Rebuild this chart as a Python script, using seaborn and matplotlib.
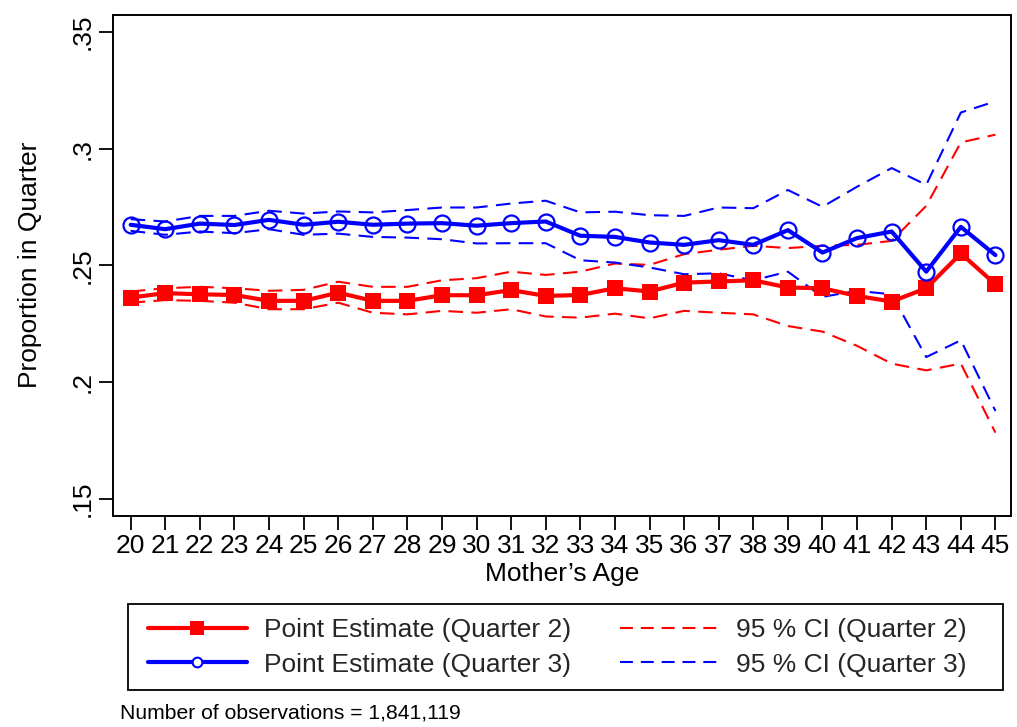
import numpy as np
import pandas as pd
import matplotlib
matplotlib.use("Agg")
import matplotlib.pyplot as plt
import seaborn as sns
from matplotlib.lines import Line2D
from matplotlib.patches import Rectangle

# Mother's age at birth
ages = list(range(20, 46))

# Quarter 2: point estimate and 95% confidence bounds
q2_est = [0.2362, 0.2381, 0.2376, 0.2373, 0.2348, 0.2348, 0.2383, 0.2348, 0.2348,
          0.2372, 0.2372, 0.2394, 0.2369, 0.2373, 0.2402, 0.2388, 0.2426, 0.2431,
          0.2436, 0.2405, 0.2402, 0.2369, 0.2345, 0.2402, 0.2551, 0.2419]
q2_hi = [0.2388, 0.2402, 0.2408, 0.2402, 0.2391, 0.2395, 0.2430, 0.2408, 0.2408,
         0.2436, 0.2445, 0.2473, 0.2459, 0.2473, 0.2508, 0.2502, 0.2548, 0.2567,
         0.2584, 0.2574, 0.2584, 0.2588, 0.2605, 0.2755, 0.3027, 0.3060]
q2_lo = [0.2340, 0.2351, 0.2348, 0.2340, 0.2312, 0.2312, 0.2340, 0.2297, 0.2290,
         0.2305, 0.2297, 0.2312, 0.2281, 0.2276, 0.2293, 0.2273, 0.2305, 0.2297,
         0.2290, 0.2240, 0.2216, 0.2155, 0.2079, 0.2050, 0.2079, 0.1783]

# Quarter 3: point estimate and 95% confidence bounds
q3_est = [0.2674, 0.2655, 0.2679, 0.2673, 0.2695, 0.2674, 0.2687, 0.2674, 0.2679,
          0.2681, 0.2670, 0.2681, 0.2688, 0.2627, 0.2622, 0.2598, 0.2588, 0.2608,
          0.2588, 0.2651, 0.2555, 0.2617, 0.2645, 0.2473, 0.2665, 0.2544]
q3_hi = [0.2698, 0.2688, 0.2712, 0.2712, 0.2734, 0.2722, 0.2731, 0.2727, 0.2737,
         0.2748, 0.2748, 0.2765, 0.2777, 0.2727, 0.2730, 0.2715, 0.2712, 0.2748,
         0.2745, 0.2823, 0.2751, 0.2837, 0.2917, 0.2845, 0.3155, 0.3203]
q3_lo = [0.2648, 0.2631, 0.2645, 0.2638, 0.2655, 0.2631, 0.2636, 0.2622, 0.2619,
         0.2612, 0.2594, 0.2595, 0.2595, 0.2522, 0.2512, 0.2491, 0.2462, 0.2466,
         0.2436, 0.2473, 0.2365, 0.2391, 0.2376, 0.2107, 0.2179, 0.1876]

y_ticks = [0.15, 0.20, 0.25, 0.30, 0.35]
y_tick_labels = [".15", ".2", ".25", ".3", ".35"]

sns.set_theme(style="white")
plt.rcParams["font.family"] = ["Liberation Sans", "DejaVu Sans"]

df = pd.DataFrame({"age": ages, "q2": q2_est, "q2_hi": q2_hi, "q2_lo": q2_lo,
                   "q3": q3_est, "q3_hi": q3_hi, "q3_lo": q3_lo})

RED = "#ff0000"
BLUE = "#0000ff"
DASH = (0, (7, 4))
FS = 19

W, H = 1017, 727
fig = plt.figure(figsize=(W / 100, H / 100), dpi=100)
fig.patch.set_facecolor("white")
ax = fig.add_axes([113 / W, 1 - 515.5 / H, (1011 - 113) / W, (515.5 - 15) / H])

# Confidence bands as dashed lines
for col, c in [("q2_hi", RED), ("q2_lo", RED), ("q3_hi", BLUE), ("q3_lo", BLUE)]:
    sns.lineplot(data=df, x="age", y=col, ax=ax, color=c, linewidth=1.5,
                 linestyle=DASH, legend=False)

# Point estimates
sns.lineplot(data=df, x="age", y="q2", ax=ax, color=RED, linewidth=3.0,
             marker="s", markersize=11.5, markeredgewidth=0, markerfacecolor=RED,
             legend=False)
sns.lineplot(data=df, x="age", y="q3", ax=ax, color=BLUE, linewidth=3.0,
             marker="o", markersize=11.5, markeredgewidth=1.6,
             markerfacecolor="none", markeredgecolor=BLUE, legend=False)

ax.set_xlim(19.49, 45.45)
ax.set_ylim(0.1428, 0.3573)
ax.set_xticks(ages)
ax.set_xticklabels([str(a) for a in ages])
ax.set_yticks(y_ticks)
ax.set_yticklabels(y_tick_labels, rotation=90, va="center")

ax.tick_params(axis="both", which="major", direction="out", length=10, width=1.3,
               color="black", labelsize=FS, labelcolor="black", pad=3,
               bottom=True, left=True)
for s in ax.spines.values():
    s.set_visible(True)
    s.set_color("black")
    s.set_linewidth(1.4)

ax.set_xlabel("Mother’s Age", fontsize=FS, color="black", labelpad=3)
ax.set_ylabel("Proportion in Quarter", fontsize=FS, color="black", labelpad=21)
ax.grid(False)

# Legend box drawn as a plain rectangle, entries placed inside it
fig.patches.append(Rectangle((128 / W, 1 - 690 / H), (1003 - 128) / W, (690 - 604) / H,
                             transform=fig.transFigure, fill=False,
                             edgecolor="black", linewidth=1.3, zorder=5))

handles = [
    Line2D([], [], color=RED, linewidth=3.0, marker="s", markersize=10,
           markeredgewidth=0),
    Line2D([], [], color=BLUE, linewidth=3.0, marker="o", markersize=7,
           markerfacecolor="white", markeredgewidth=1.5),
    Line2D([], [], color=RED, linewidth=1.5, linestyle=(0, (6.2, 3.8))),
    Line2D([], [], color=BLUE, linewidth=1.5, linestyle=(0, (6.2, 3.8))),
]
labels = ["Point Estimate (Quarter 2)", "Point Estimate (Quarter 3)",
          "95 % CI (Quarter 2)", "95 % CI (Quarter 3)"]
leg = fig.legend(handles, labels, ncol=2, loc="upper left",
                 bbox_to_anchor=(148 / W, 1 - 618 / H),
                 fontsize=FS, frameon=False, handlelength=3.75,
                 handletextpad=0.64, labelspacing=0.4, borderpad=0,
                 borderaxespad=0, columnspacing=1.86)

fig.text(120 / W, 1 - 713 / H, "Number of observations = 1,841,119",
         fontsize=15.2, va="center", ha="left", color="black")

fig.savefig("out.png", dpi=100, facecolor="white")
